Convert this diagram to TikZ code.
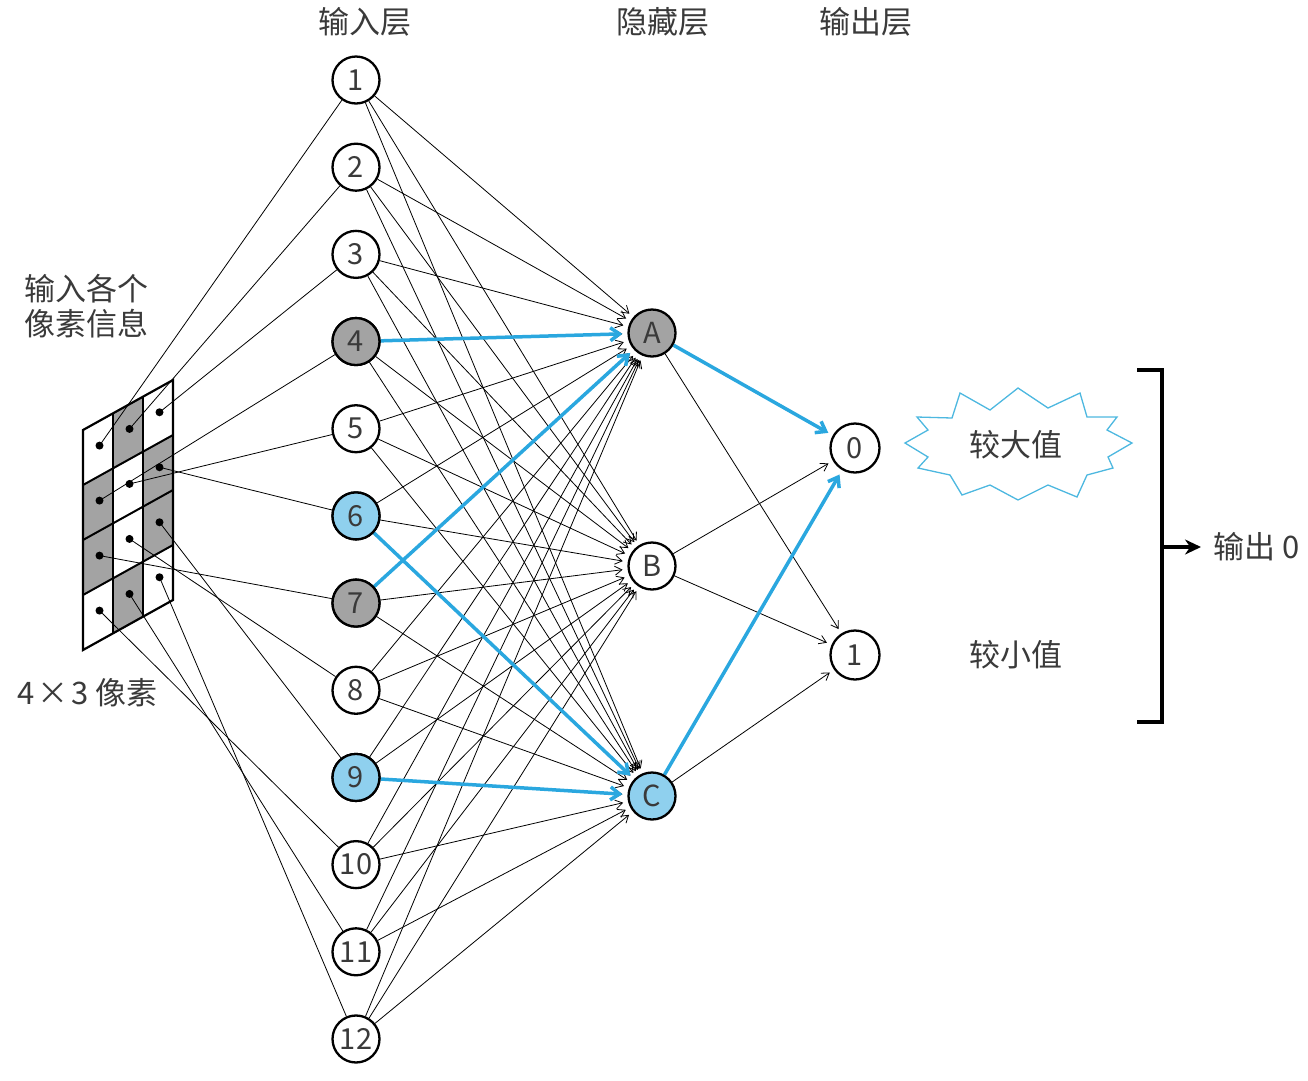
\documentclass[tikz,border=0pt]{standalone}
\usepackage{fontspec}
\setmainfont{Noto Sans CJK SC}
\usetikzlibrary{arrows.meta,backgrounds}
\definecolor{nblue}{HTML}{2AA7DF}
\definecolor{lblue}{HTML}{8FD0EE}
\definecolor{ngray}{HTML}{A3A3A3}
\definecolor{txt}{HTML}{3A3A3A}
\definecolor{burst}{HTML}{4DB8E0}
\begin{document}
\begin{tikzpicture}[x=1pt,y=-1pt,
  neuron/.style={circle, draw=black, line width=2.3pt, minimum size=47pt, inner sep=0pt, fill=white, text=txt, font=\fontsize{29}{29}\selectfont},
  conn/.style={line width=0.8pt, -{Straight Barb[length=7pt,width=9pt]}, shorten >=5pt},
  hot/.style={line width=3.5pt, nblue, -{Straight Barb[length=9pt,width=13pt]}, shorten >=5pt},
  label/.style={text=txt, font=\fontsize{31}{31}\selectfont, inner sep=0pt},
  pixline/.style={line width=0.8pt}]
\useasboundingbox (0,0) rectangle (1308,1080);

% input nodes
\foreach \k in {1,...,12}{
  \node[neuron] (i\k) at (356,{80+(\k-1)*87.18}) {\k};
}
\node[neuron, fill=ngray] at (i4) {4};
\node[neuron, fill=ngray] at (i7) {7};
\node[neuron, fill=lblue] at (i6) {6};
\node[neuron, fill=lblue] at (i9) {9};

% hidden nodes
\node[neuron, fill=ngray] (A) at (652,333) {A};
\node[neuron] (B) at (652,566) {B};
\node[neuron, fill=lblue] (C) at (652,796) {C};

% output nodes
\node[neuron, minimum size=49pt] (o0) at (855,448) {0};
\node[neuron, minimum size=49pt] (o1) at (855,655) {1};

% layer titles
\node[label] (t1) at (365,22) {输入层};
\node[label] (t2) at (663,22) {隐藏层};
\node[label] (t3) at (866,22) {输出层};

% left labels
\node[label, anchor=west, align=left] (lin) at (24,306) {输入各个\\[4pt]像素信息};
\node[label, anchor=west] (lpx) at (17,693) {4\hspace{3pt}×\hspace{3pt}3 像素};

% starburst label
\begin{scope}[shift={(1016,445)}]
\draw[burst, line width=1.3pt, fill=white]
  (2,-57) -- (32,-37) -- (64,-52) -- (71,-28) -- (101,-28) -- (91,-15) -- (116,-2)
  -- (92,12) -- (97,23) -- (71,30) -- (61,52) -- (32,40) -- (2,55) -- (-26,40)
  -- (-54,50) -- (-66,30) -- (-98,23) -- (-88,12) -- (-111,-2) -- (-88,-15)
  -- (-99,-28) -- (-64,-27) -- (-56,-52) -- (-26,-35) -- cycle;
\end{scope}
\node[label] (big) at (1016,445) {较大值};
\node[label] (small) at (1016,655) {较小值};

% bracket
\draw[line width=4pt] (1137,370) -- (1162,370) -- (1162,722) -- (1137,722);
\coordinate (br) at (1162,547);
\coordinate (brtip) at (1201,547);
\node[label, anchor=west] (out) at (1213,547) {输出 0};
\draw[line width=3.5pt, -{Stealth[length=16pt,width=15pt]}] (br) -- (brtip);

\begin{scope}[on background layer]
  % pixel grid
  \begin{scope}[shift={(83,430)}, x={(30pt,16.667pt)}, y={(0pt,-55pt)}]
    \foreach \c/\r in {1/0,0/1,2/1,0/2,2/2,1/3}{
      \fill[ngray] (\c,\r) -- (\c+1,\r) -- (\c+1,\r+1) -- (\c,\r+1) -- cycle;
    }
    \foreach \r in {1,2,3}{ \draw[line width=2pt] (0,\r) -- (3,\r); }
    \foreach \c in {1,2}{ \draw[line width=2pt] (\c,0) -- (\c,4); }
    \draw[line width=2.2pt] (0,0) -- (3,0) -- (3,4) -- (0,4) -- cycle;
    \foreach \r in {0,1,2}{
      \foreach \c in {0,1,2}{
        \pgfmathtruncatemacro{\k}{\r*3+\c+1}
        \coordinate (p\k) at (\c+0.55,\r+0.45);
      }
    }
    \coordinate (p10) at (0.55,3.45);
    \coordinate (p11) at (1.55,3.45);
    \coordinate (p12) at (2.55,3.45);
  \end{scope}
  \foreach \k in {1,...,12}{
    \fill (p\k) circle (4pt);
    \draw[pixline] (p\k) -- (i\k);
  }
  % input -> hidden
  \foreach \k in {1,...,12}{
    \foreach \h in {A,B,C}{
      \draw[conn] (i\k) -- (\h);
    }
  }
  \draw[hot] (i4) -- (A);
  \draw[hot] (i7) -- (A);
  \draw[hot] (i6) -- (C);
  \draw[hot] (i9) -- (C);
  % hidden -> output
  \draw[conn] (A) -- (o1);
  \draw[conn] (B) -- (o0);
  \draw[conn] (B) -- (o1);
  \draw[conn] (C) -- (o1);
  \draw[hot] (A) -- (o0);
  \draw[hot] (C) -- (o0);
\end{scope}
\end{tikzpicture}
\end{document}
